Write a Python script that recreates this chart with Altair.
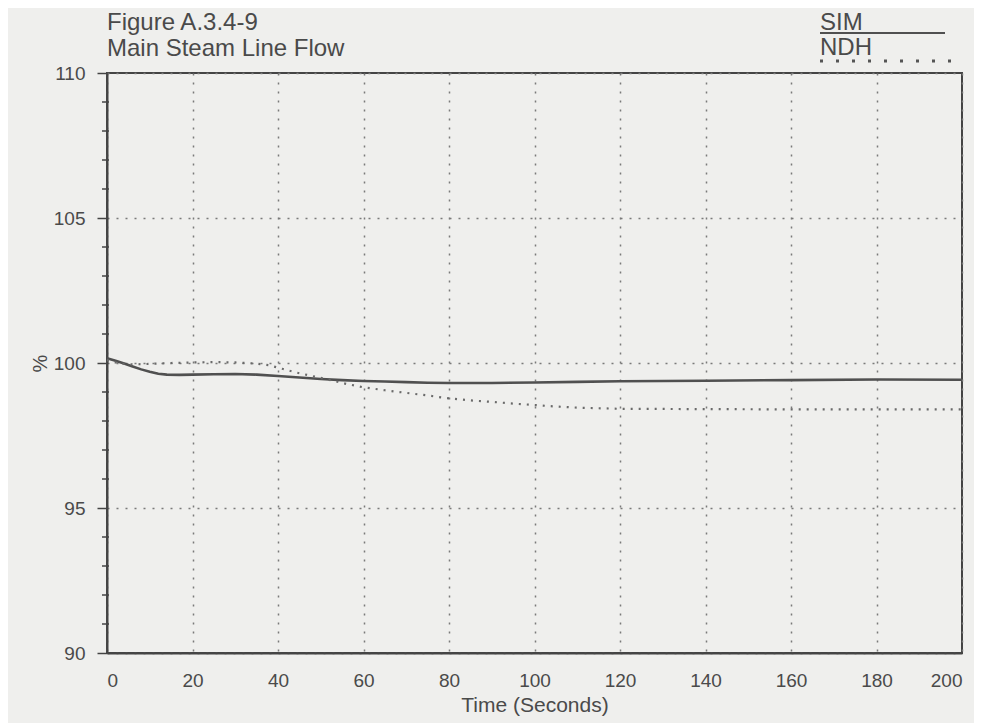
import altair as alt
import pandas as pd

# ---- data ----
sim_t = [0, 2, 4, 6, 8, 10, 12, 14, 17, 20, 25, 30, 35, 40, 45, 50, 55, 60, 65, 70,
         75, 80, 90, 100, 110, 120, 140, 160, 180, 200]
sim_v = [100.16, 100.08, 99.98, 99.88, 99.78, 99.70, 99.63, 99.60, 99.59, 99.60, 99.61,
         99.62, 99.60, 99.55, 99.50, 99.45, 99.41, 99.38, 99.36, 99.34, 99.32, 99.31,
         99.31, 99.33, 99.35, 99.37, 99.39, 99.41, 99.43, 99.42]

ndh_t = [0, 3, 6, 10, 15, 20, 25, 30, 35, 38, 41, 44, 48, 52, 56, 60, 65, 70, 75, 80,
         85, 90, 95, 100, 105, 110, 120, 140, 160, 180, 200]
ndh_v = [100.10, 99.98, 99.95, 99.97, 100.00, 100.02, 100.03, 100.02, 99.98, 99.92,
         99.80, 99.68, 99.55, 99.42, 99.28, 99.16, 99.06, 98.97, 98.88, 98.78, 98.71,
         98.66, 98.60, 98.55, 98.50, 98.46, 98.42, 98.41, 98.40, 98.40, 98.40]

x_ticks = [0, 20, 40, 60, 80, 100, 120, 140, 160, 180, 200]
y_ticks = [90, 95, 100, 105, 110]
y_minor = [91, 92, 93, 94, 96, 97, 98, 99, 101, 102, 103, 104, 106, 107, 108, 109]

title_lines = ["Figure A.3.4-9", "Main Steam Line Flow"]
series_names = ["SIM", "NDH"]

INK = "#4a4a4a"
FONT = "Liberation Sans"

sim_df = pd.DataFrame({"t": sim_t, "v": sim_v})
ndh_df = pd.DataFrame({"t": ndh_t, "v": ndh_v})
minor_df = pd.DataFrame({"v": y_minor})

x_scale = alt.Scale(domain=[0, 200], nice=False, zero=False)
y_scale = alt.Scale(domain=[90, 110], nice=False, zero=False)

x_axis = alt.Axis(values=x_ticks, tickSize=0, labelPadding=18, labelFontSize=19,
                  labelColor=INK, labelFont=FONT, title="Time (Seconds)",
                  titleFontSize=21, titleFontWeight="normal", titleColor=INK,
                  titleFont=FONT, titlePadding=4,
                  grid=True, gridDash=[2, 7], gridColor="#7a7a7a", gridWidth=1.5,
                  domainColor="#444444", domainWidth=2)
y_axis = alt.Axis(values=y_ticks, tickSize=10, tickColor="#444444", tickWidth=1.5,
                  labelPadding=12, labelFontSize=19, labelColor=INK, labelFont=FONT,
                  title="%", titleFontSize=20, titleFontWeight="normal",
                  titleColor=INK, titleFont=FONT, titlePadding=3,
                  grid=True, gridDash=[2, 7], gridColor="#7a7a7a", gridWidth=1.5,
                  domainColor="#444444", domainWidth=2)

sim = alt.Chart(sim_df).mark_line(color="#505050", strokeWidth=2.6).encode(
    x=alt.X("t:Q", scale=x_scale, axis=x_axis),
    y=alt.Y("v:Q", scale=y_scale, axis=y_axis),
)
ndh = alt.Chart(ndh_df).mark_line(color="#6a6a6a", strokeWidth=2.2,
                                  strokeDash=[2, 6]).encode(
    x=alt.X("t:Q", scale=x_scale),
    y=alt.Y("v:Q", scale=y_scale),
)
minor = alt.Chart(minor_df).mark_rule(color="#444444", strokeWidth=1.5).encode(
    y=alt.Y("v:Q", scale=y_scale),
    x=alt.value(-5), x2=alt.value(2),
)

title_df = pd.DataFrame({"txt": title_lines, "yy": [-43, -17]})
titles = alt.Chart(title_df).mark_text(align="left", baseline="alphabetic",
                                        fontSize=24, font=FONT, color=INK).encode(
    text="txt:N", x=alt.value(0), y=alt.Y("yy:Q", scale=None),
)

leg_df = pd.DataFrame({"txt": series_names, "yy": [-43, -18]})
leg_text = alt.Chart(leg_df).mark_text(align="left", baseline="alphabetic",
                                        fontSize=24, font=FONT, color=INK).encode(
    text="txt:N", x=alt.value(713), y=alt.Y("yy:Q", scale=None),
)
leg_sim = alt.Chart(pd.DataFrame({"s": ["SIM"]})).mark_rule(
    color="#505050", strokeWidth=2).encode(
    x=alt.value(713), x2=alt.value(838), y=alt.value(-40))
leg_ndh = alt.Chart(pd.DataFrame({"s": ["NDH"]})).mark_rule(
    color="#555555", strokeWidth=3, strokeDash=[3, 13]).encode(
    x=alt.value(713), x2=alt.value(850), y=alt.value(-12))

chart = alt.layer(sim, ndh, minor, titles, leg_text, leg_sim, leg_ndh).properties(
    width=855, height=580,
    autosize=alt.AutoSizeParams(type="none"),
    padding={"left": 99, "top": 65, "right": 12, "bottom": 70},
    background="#efefed",
).configure_view(stroke="#444444", strokeWidth=2)

chart.save("out.html", embed_options={"renderer": "svg", "actions": False})
